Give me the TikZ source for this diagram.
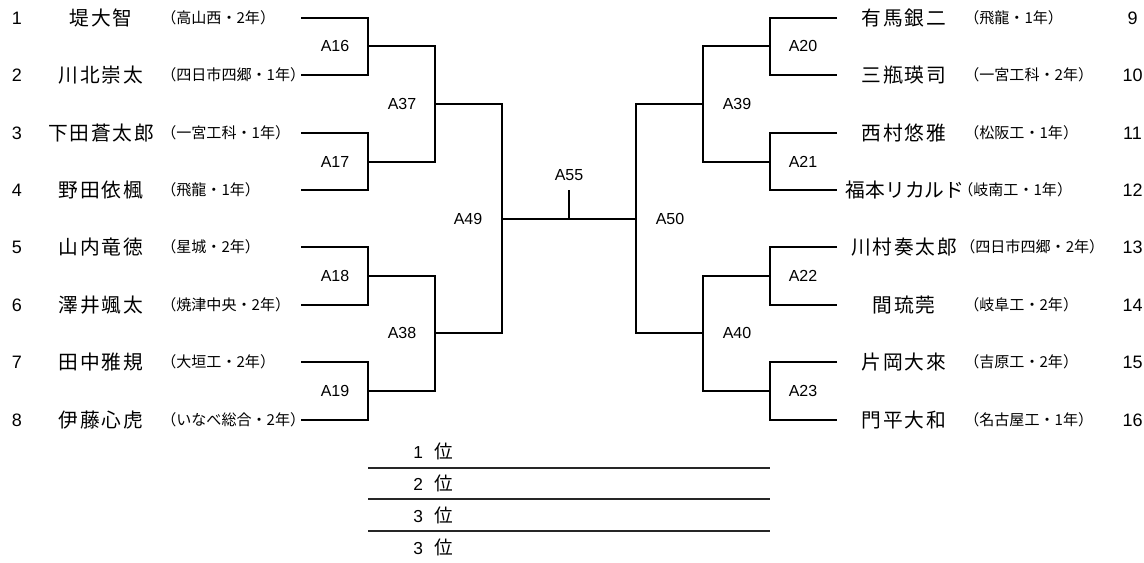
\documentclass[tikz,border=0pt]{standalone}
\usepackage{fontspec}
\setmainfont{Liberation Sans}
\newfontfamily\jp{Noto Sans CJK JP}
\newfontfamily\jpname[LetterSpace=9]{Noto Sans CJK JP}
\begin{document}
\begin{tikzpicture}[x=0.75pt,y=-0.75pt,
  num/.style={font=\fontsize{13.5}{16}\selectfont, inner sep=0pt},
  pname/.style={font=\jpname\fontsize{14.8}{17}\selectfont, inner sep=0pt},
  pnametight/.style={font=\jp\fontsize{14.8}{17}\selectfont, inner sep=0pt},
  school/.style={anchor=west, inner sep=0pt, font=\jp\fontsize{11.3}{13}\selectfont},
  mlabel/.style={font=\fontsize{12}{14}\selectfont, inner sep=0pt},
  rank/.style={anchor=west, inner sep=0pt, font=\fontsize{13}{15}\selectfont},
  bline/.style={line width=1.5pt, line join=miter},
  rline/.style={line width=1.2pt, black!85}]
\useasboundingbox (0,0) rectangle (1144,562);
% row y positions
\def\ya{18}\def\yb{75}\def\yc{133}\def\yd{190}
\def\ye{247}\def\yf{305}\def\yg{362}\def\yh{420}
% ---------- left players ----------
\node[num] (n1) at (17,\ya) {1};
\node[num] (n2) at (17,\yb) {2};
\node[num] (n3) at (17,\yc) {3};
\node[num] (n4) at (17,\yd) {4};
\node[num] (n5) at (17,\ye) {5};
\node[num] (n6) at (17,\yf) {6};
\node[num] (n7) at (17,\yg) {7};
\node[num] (n8) at (17,\yh) {8};
\node[pname] (a1) at (101,\ya) {堤大智};
\node[pname] (a2) at (101,\yb) {川北崇太};
\node[pname] (a3) at (101,\yc) {下田蒼太郎};
\node[pname] (a4) at (101,\yd) {野田依楓};
\node[pname] (a5) at (101,\ye) {山内竜徳};
\node[pname] (a6) at (101,\yf) {澤井颯太};
\node[pname] (a7) at (101,\yg) {田中雅規};
\node[pname] (a8) at (101,\yh) {伊藤心虎};
\node[school] (s1) at (161,\ya) {（高山西・2年）};
\node[school] (s2) at (161,\yb) {（四日市四郷・1年）};
\node[school] (s3) at (161,\yc) {（一宮工科・1年）};
\node[school] (s4) at (161,\yd) {（飛龍・1年）};
\node[school] (s5) at (161,\ye) {（星城・2年）};
\node[school] (s6) at (161,\yf) {（焼津中央・2年）};
\node[school] (s7) at (161,\yg) {（大垣工・2年）};
\node[school] (s8) at (161,\yh) {（いなべ総合・2年）};
% ---------- right players ----------
\node[pname] (b9) at (904,\ya) {有馬銀二};
\node[pname] (b10) at (904,\yb) {三瓶瑛司};
\node[pname] (b11) at (904,\yc) {西村悠雅};
\node[pnametight] (b12) at (905,\yd) {福本リカルド};
\node[pname] (b13) at (904,\ye) {川村奏太郎};
\node[pname] (b14) at (904,\yf) {間琉莞};
\node[pname] (b15) at (904,\yg) {片岡大來};
\node[pname] (b16) at (904,\yh) {門平大和};
\node[school] (t9) at (964,\ya) {（飛龍・1年）};
\node[school] (t10) at (964,\yb) {（一宮工科・2年）};
\node[school] (t11) at (964,\yc) {（松阪工・1年）};
\node[school] (t12) at (958,\yd) {（岐南工・1年）};
\node[school] (t13) at (960,\ye) {（四日市四郷・2年）};
\node[school] (t14) at (964,\yf) {（岐阜工・2年）};
\node[school] (t15) at (964,\yg) {（吉原工・2年）};
\node[school] (t16) at (964,\yh) {（名古屋工・1年）};
\node[num] (n9) at (1132.5,\ya) {9};
\node[num] (n10) at (1132.5,\yb) {10};
\node[num] (n11) at (1132.5,\yc) {11};
\node[num] (n12) at (1132.5,\yd) {12};
\node[num] (n13) at (1132.5,\ye) {13};
\node[num] (n14) at (1132.5,\yf) {14};
\node[num] (n15) at (1132.5,\yg) {15};
\node[num] (n16) at (1132.5,\yh) {16};
% ---------- line ends ----------
\coordinate (p1) at (301,\ya); \coordinate (p2) at (301,\yb);
\coordinate (p3) at (301,\yc); \coordinate (p4) at (301,\yd);
\coordinate (p5) at (301,\ye); \coordinate (p6) at (301,\yf);
\coordinate (p7) at (301,\yg); \coordinate (p8) at (301,\yh);
\coordinate (p9) at (837,\ya); \coordinate (p10) at (837,\yb);
\coordinate (p11) at (837,\yc); \coordinate (p12) at (837,\yd);
\coordinate (p13) at (837,\ye); \coordinate (p14) at (837,\yf);
\coordinate (p15) at (837,\yg); \coordinate (p16) at (837,\yh);
% match points
\coordinate (m16) at (368,46); \coordinate (m17) at (368,162);
\coordinate (m18) at (368,276); \coordinate (m19) at (368,391);
\coordinate (m37) at (435,104); \coordinate (m38) at (435,333);
\coordinate (m49) at (502,219);
\coordinate (m20) at (770,46); \coordinate (m21) at (770,162);
\coordinate (m22) at (770,276); \coordinate (m23) at (770,391);
\coordinate (m39) at (703,104); \coordinate (m40) at (703,333);
\coordinate (m50) at (636,219);
\coordinate (m55) at (569,190); \coordinate (m55b) at (569,219);
% ---------- bracket ----------
\draw[bline] (p1) -| (m16) |- (p2);
\draw[bline] (p3) -| (m17) |- (p4);
\draw[bline] (p5) -| (m18) |- (p6);
\draw[bline] (p7) -| (m19) |- (p8);
\draw[bline] (m16) -| (m37) |- (m17);
\draw[bline] (m18) -| (m38) |- (m19);
\draw[bline] (m37) -| (m49) |- (m38);
\draw[bline] (p9) -| (m20) |- (p10);
\draw[bline] (p11) -| (m21) |- (p12);
\draw[bline] (p13) -| (m22) |- (p14);
\draw[bline] (p15) -| (m23) |- (p16);
\draw[bline] (m20) -| (m39) |- (m21);
\draw[bline] (m22) -| (m40) |- (m23);
\draw[bline] (m39) -| (m50) |- (m40);
\draw[bline] (m49) -- (m50);
\draw[bline] (m55) -- (m55b);
% ---------- match labels ----------
\node[mlabel] (l16) at (335,46) {A16};
\node[mlabel] (l17) at (335,162) {A17};
\node[mlabel] (l18) at (335,276) {A18};
\node[mlabel] (l19) at (335,391) {A19};
\node[mlabel] (l37) at (402,104) {A37};
\node[mlabel] (l38) at (402,333) {A38};
\node[mlabel] (l49) at (468,219) {A49};
\node[mlabel] (l20) at (803,46) {A20};
\node[mlabel] (l21) at (803,162) {A21};
\node[mlabel] (l22) at (803,276) {A22};
\node[mlabel] (l23) at (803,391) {A23};
\node[mlabel] (l39) at (737,104) {A39};
\node[mlabel] (l40) at (737,333) {A40};
\node[mlabel] (l50) at (670,219) {A50};
\node[mlabel] (l55) at (569,175.5) {A55};
% ---------- ranking ----------
\node[rank] (r1) at (413,451) {1\hspace{9pt}{\jp\fontsize{14}{15}\selectfont 位}};
\node[rank] (r2) at (413,483) {2\hspace{9pt}{\jp\fontsize{14}{15}\selectfont 位}};
\node[rank] (r3) at (413,515) {3\hspace{9pt}{\jp\fontsize{14}{15}\selectfont 位}};
\node[rank] (r4) at (413,547) {3\hspace{9pt}{\jp\fontsize{14}{15}\selectfont 位}};
\coordinate (ra1) at (368,468); \coordinate (rb1) at (770,468);
\coordinate (ra2) at (368,499); \coordinate (rb2) at (770,499);
\coordinate (ra3) at (368,531); \coordinate (rb3) at (770,531);
\draw[rline] (ra1) -- (rb1);
\draw[rline] (ra2) -- (rb2);
\draw[rline] (ra3) -- (rb3);
\end{tikzpicture}
\end{document}
